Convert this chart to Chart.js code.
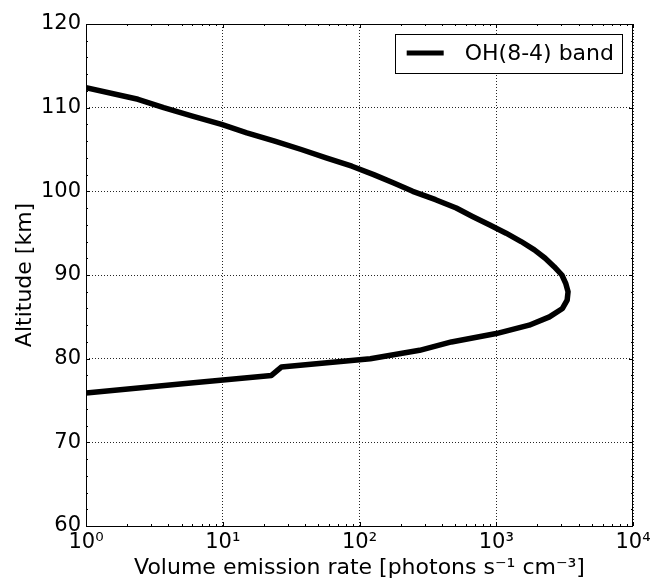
<!DOCTYPE html>
<html>
<head>
<meta charset="utf-8">
<script src="https://cdn.jsdelivr.net/npm/chart.js@4.4.1/dist/chart.umd.min.js"></script>
<style>
html,body{margin:0;padding:0;background:#ffffff;}
#wrap{width:651px;height:581px;position:relative;}
canvas{display:block;}
</style>
</head>
<body>
<div id="wrap"><canvas id="c" width="651" height="581"></canvas></div>
<script>
// ---- data ----
const seriesLabel = 'OH(8-4) band';
const altitudeKm = [75.9, 77, 78, 79, 80, 81, 82, 83, 84, 85, 86, 87, 88, 89, 90, 91, 92, 93, 94, 95, 96, 97, 98, 99, 100, 101, 102, 103, 104, 105, 106, 107, 108, 109, 110, 111, 112.4];
const emissionRate = [1.0, 5.1, 22.7, 26.8, 120, 275, 470, 1000, 1740, 2450, 3050, 3300, 3350, 3220, 3020, 2650, 2280, 1900, 1520, 1180, 890, 670, 510, 360, 245, 178, 127, 88, 57, 37.5, 24, 15, 9.8, 6.0, 3.7, 2.4, 1.0];
const xTickValues = [1, 10, 100, 1000, 10000];
const xTickLabels = ['10\u2070', '10\u00B9', '10\u00B2', '10\u00B3', '10\u2074'];
const yTickValues = [60, 70, 80, 90, 100, 110, 120];
const yTickLabels = ['60', '70', '80', '90', '100', '110', '120'];
const xTitle = 'Volume emission rate [photons s\u207B\u00B9 cm\u207B\u00B3]';
const yTitle = 'Altitude [km]';

const FONT = 'DejaVu Sans';
const points = altitudeKm.map((a, i) => ({x: emissionRate[i], y: a}));

const framePlugin = {
  id: 'frameTicksLegend',
  afterDraw(chart) {
    const {ctx, chartArea: ca, scales} = chart;
    const xs = scales.x, ys = scales.y;
    ctx.save();
    ctx.strokeStyle = '#000';
    ctx.lineWidth = 1;
    ctx.setLineDash([]);
    ctx.strokeRect(Math.round(ca.left) + 0.5, Math.round(ca.top) + 0.5,
                   Math.round(ca.right - ca.left) - 1, Math.round(ca.bottom - ca.top));
    ctx.beginPath();
    const xMinor = [];
    for (let k = 0; k < xTickValues.length - 1; k++) {
      for (let m = 2; m <= 9; m++) xMinor.push(xTickValues[k] * m);
    }
    const tickX = (v, len) => {
      const px = Math.round(xs.getPixelForValue(v)) + 0.5;
      ctx.moveTo(px, ca.bottom); ctx.lineTo(px, ca.bottom - len);
      ctx.moveTo(px, ca.top); ctx.lineTo(px, ca.top + len);
    };
    xTickValues.forEach(v => tickX(v, 4));
    xMinor.forEach(v => tickX(v, 2));
    const tickY = (v, len) => {
      const py = Math.round(ys.getPixelForValue(v)) + 0.5;
      ctx.moveTo(ca.left, py); ctx.lineTo(ca.left + len, py);
      ctx.moveTo(ca.right, py); ctx.lineTo(ca.right - len, py);
    };
    yTickValues.forEach(v => tickY(v, 4));
    for (let v = yTickValues[0]; v < yTickValues[yTickValues.length - 1]; v += 2) {
      if (v % 10 !== 0) tickY(v, 2);
    }
    ctx.stroke();

    // legend
    const ds = chart.data.datasets[0];
    ctx.font = '22px "' + FONT + '"';
    const tw = ctx.measureText(ds.label).width;
    const bh = 39;
    const bRight = ca.right - 11;
    const bTop = ca.top + 10;
    const bw = 12 + 37 + 22 + tw + 7;
    const bLeft = bRight - bw;
    ctx.fillStyle = '#fff';
    ctx.fillRect(bLeft, bTop, bw, bh);
    ctx.strokeStyle = '#000';
    ctx.lineWidth = 1;
    ctx.strokeRect(Math.round(bLeft) + 0.5, Math.round(bTop) + 0.5, Math.round(bw), bh);
    ctx.beginPath();
    ctx.lineWidth = 5;
    ctx.strokeStyle = ds.borderColor;
    ctx.moveTo(bLeft + 12, bTop + 19);
    ctx.lineTo(bLeft + 49, bTop + 19);
    ctx.stroke();
    ctx.fillStyle = '#000';
    ctx.textBaseline = 'alphabetic';
    ctx.textAlign = 'left';
    ctx.fillText(ds.label, bLeft + 70, bTop + 26);
    ctx.restore();
  }
};

new Chart(document.getElementById('c'), {
  type: 'scatter',
  data: {
    datasets: [{
      label: seriesLabel,
      data: points,
      showLine: true,
      borderColor: '#000000',
      backgroundColor: '#000000',
      borderWidth: 5.5,
      borderJoinStyle: 'round',
      pointRadius: 0,
      pointHoverRadius: 0,
      tension: 0,
      fill: false,
      clip: 0
    }]
  },
  options: {
    responsive: false,
    animation: false,
    devicePixelRatio: 1,
    layout: {padding: {top: 24, right: 18, left: 0, bottom: 0}},
    plugins: {legend: {display: false}, tooltip: {enabled: false}},
    scales: {
      x: {
        type: 'logarithmic',
        position: 'bottom',
        min: 1, max: 10000,
        afterBuildTicks(scale) { scale.ticks = xTickValues.map(v => ({value: v, major: true})); },
        afterFit(scale) { scale.height = 55; scale.paddingLeft = 0; scale.paddingRight = 0; },
        ticks: {
          autoSkip: false, maxRotation: 0, minRotation: 0, padding: 4,
          color: '#000', font: {family: FONT, size: 21},
          callback: (v) => { const i = xTickValues.indexOf(v); return i >= 0 ? xTickLabels[i] : ''; }
        },
        grid: {display: true, color: 'rgba(0,0,0,0.85)', lineWidth: 1, drawTicks: false},
        border: {display: false, dash: [1, 2]},
        title: {display: true, text: xTitle, color: '#000', font: {family: FONT, size: 22}, padding: {top: 0, bottom: 0}}
      },
      y: {
        type: 'linear',
        position: 'left',
        min: 60, max: 120,
        afterBuildTicks(scale) { scale.ticks = yTickValues.map(v => ({value: v})); },
        afterFit(scale) { scale.width = 86; scale.paddingTop = 0; scale.paddingBottom = 0; },
        ticks: {
          padding: 5, color: '#000', font: {family: FONT, size: 21},
          callback: (v) => { const i = yTickValues.indexOf(v); return i >= 0 ? yTickLabels[i] : ''; }
        },
        grid: {display: true, color: 'rgba(0,0,0,0.85)', lineWidth: 1, drawTicks: false},
        border: {display: false, dash: [1, 2]},
        title: {display: true, text: yTitle, color: '#000', font: {family: FONT, size: 22}, padding: {top: 12, bottom: 0}}
      }
    }
  },
  plugins: [framePlugin]
});
</script>
</body>
</html>
